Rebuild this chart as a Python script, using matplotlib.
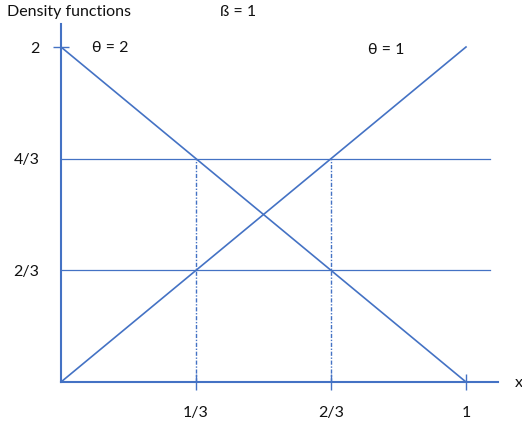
import matplotlib
matplotlib.use("Agg")
import matplotlib.pyplot as plt

plt.rcParams['font.family'] = ['Lato', 'DejaVu Sans']

# data
theta2_x = [0, 1]
theta2_y = [2, 0]
theta1_x = [0, 1]
theta1_y = [0, 2]
h_levels = [2/3, 4/3]
h_extent = 1.06
v_positions = [1/3, 2/3]
v_top = 4/3
xticks = [1/3, 2/3, 1]
xticklabels = ['1/3', '2/3', '1']
yticks = [2/3, 4/3, 2]
yticklabels = ['2/3', '4/3', '2']

C = '#4472C4'
FS = 11.5
fig = plt.figure(figsize=(5.22, 4.23), dpi=100)
ax = fig.add_axes([0, 0, 1, 1])
ax.set_xlim(-61/405, (522-61)/405)
ax.set_ylim(-(423-382)/167.5, 382/167.5)

ax.plot(theta2_x, theta2_y, color=C, lw=1.2)
ax.plot(theta1_x, theta1_y, color=C, lw=1.2)
for y in h_levels:
    ax.plot([0, h_extent], [y, y], color=C, lw=0.9)
for x in v_positions:
    ax.plot([x, x], [0, v_top], color=C, lw=1.0, ls=(0, (3, 1.2, 1, 1.2)))

for s in ['top', 'right']:
    ax.spines[s].set_visible(False)
ax.spines['left'].set_position(('data', 0))
ax.spines['bottom'].set_position(('data', 0))
ax.spines['left'].set_bounds(0, 2.14)
ax.spines['bottom'].set_bounds(0, 1.08)
for s in ['left', 'bottom']:
    ax.spines[s].set_color(C)
    ax.spines[s].set_linewidth(1.5)

ax.set_xticks(xticks)
ax.set_xticklabels(xticklabels)
ax.set_yticks(yticks)
ax.set_yticklabels(yticklabels)
ax.tick_params(axis='both', direction='inout', length=11, width=1, color=C,
               labelsize=FS, labelcolor='#111111')
ax.tick_params(axis='x', pad=12)
ax.tick_params(axis='y', pad=10)
for t in ax.yaxis.get_major_ticks()[:2]:
    t.tick1line.set_visible(False)

ax.text(7/522, 1 - 12/423, 'Density functions', transform=ax.transAxes,
        fontsize=FS, va='center', ha='left', color='#111111')
ax.text(220/522, 1 - 12/423, 'ß = 1', transform=ax.transAxes,
        fontsize=FS, va='center', ha='left', color='#111111')
ax.text(92/522, 1 - 48/423, 'θ = 2', transform=ax.transAxes,
        fontsize=FS, va='center', ha='left', color='#111111')
ax.text(368/522, 1 - 50/423, 'θ = 1', transform=ax.transAxes,
        fontsize=FS, va='center', ha='left', color='#111111')
ax.text(515/522, 1 - 383/423, 'x', transform=ax.transAxes,
        fontsize=FS, va='center', ha='left', color='#111111')

fig.savefig('out.png', dpi=100)
